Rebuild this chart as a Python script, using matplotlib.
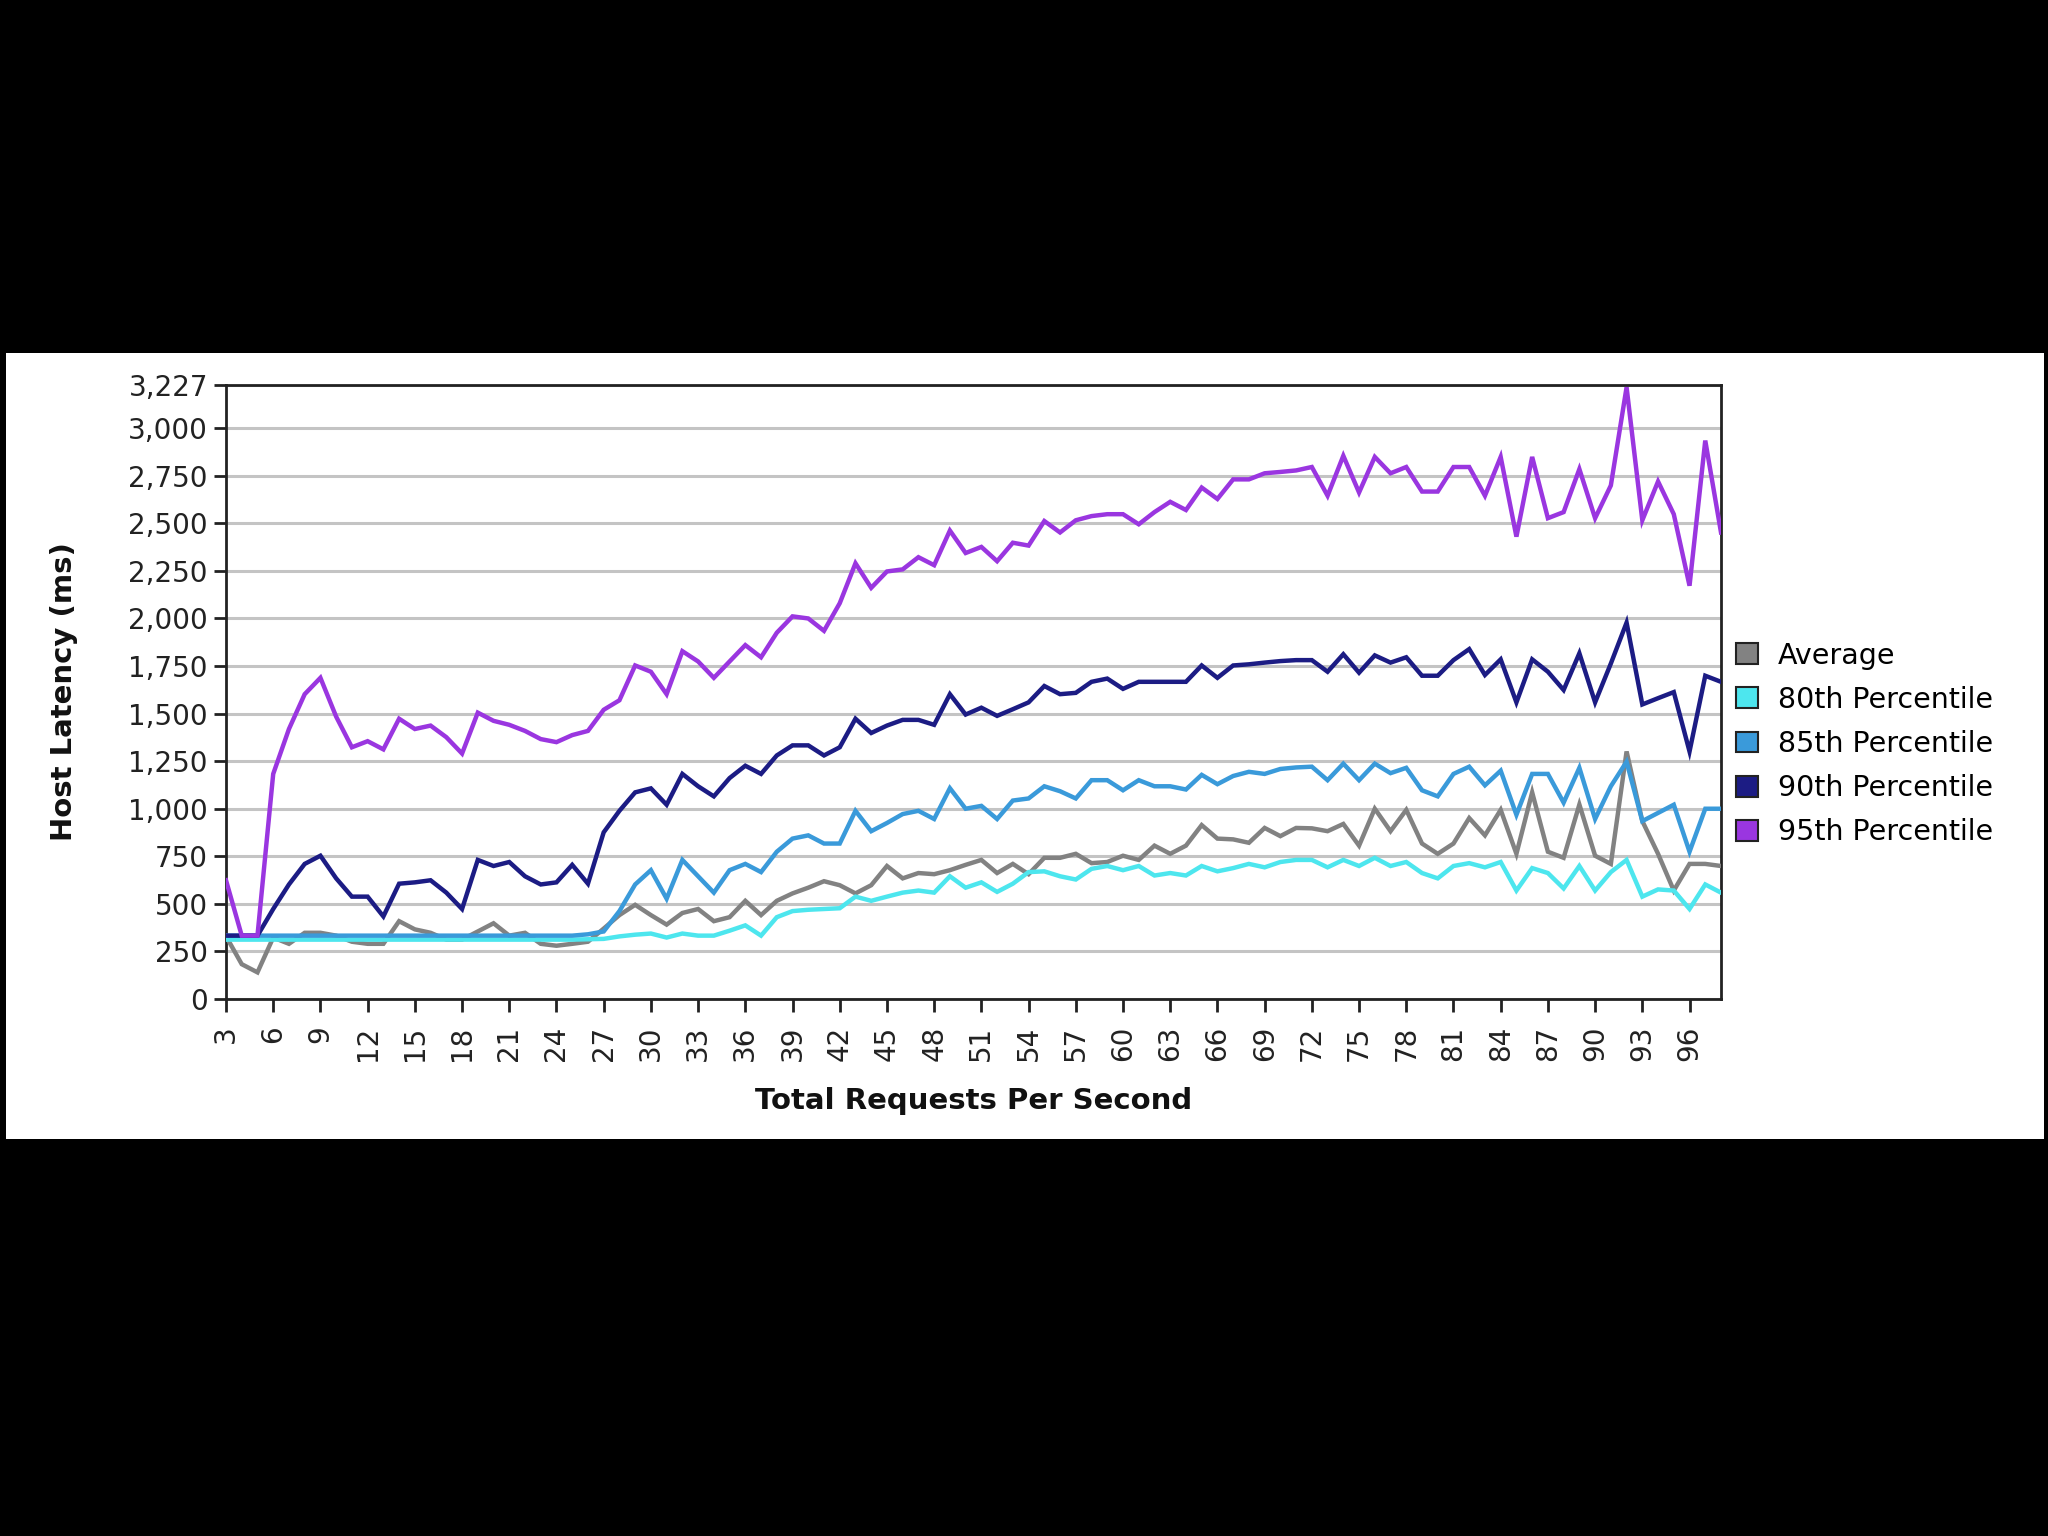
import matplotlib
matplotlib.use("Agg")
import matplotlib.pyplot as plt
from matplotlib.patches import Rectangle, Patch
from matplotlib.ticker import FuncFormatter, FixedLocator

x_values = list(range(3, 99))

average = [330, 183, 140, 323, 290, 348, 348, 333, 301, 290, 290, 409, 366, 348, 312, 312,
           355, 398, 333, 348, 290, 280, 290, 301, 370, 441, 495, 441, 391, 452, 473, 409,
           430, 516, 441, 516, 555, 585, 619, 598, 555, 598, 699, 634, 662, 656, 677, 705,
           731, 662, 710, 656, 742, 742, 763, 714, 720, 753, 731, 806, 763, 806, 914, 843,
           839, 821, 899, 856, 899, 897, 882, 920, 806, 1000, 882, 994, 817, 763, 817, 951,
           860, 994, 763, 1086, 774, 742, 1022, 753, 710, 1301, 935, 763, 570, 710, 710, 699]

p80 = [312, 312, 312, 312, 312, 312, 312, 312, 312, 312, 312, 312, 312, 312, 312, 312,
       312, 312, 312, 312, 312, 312, 312, 314, 316, 329, 338, 344, 323, 344, 333, 333,
       359, 387, 333, 430, 462, 469, 473, 477, 538, 516, 538, 559, 570, 559, 645, 585,
       613, 563, 606, 667, 671, 645, 628, 684, 699, 677, 699, 649, 662, 649, 699, 671,
       688, 710, 692, 720, 731, 731, 692, 731, 699, 742, 699, 720, 662, 634, 699, 714,
       692, 720, 570, 688, 662, 581, 699, 570, 667, 731, 538, 576, 570, 473, 602, 559]

p85 = [333, 333, 333, 333, 333, 333, 333, 333, 333, 333, 333, 333, 333, 333, 333, 333,
       333, 333, 333, 333, 333, 333, 333, 340, 355, 462, 602, 677, 527, 731, 645, 559,
       677, 710, 667, 774, 843, 860, 817, 817, 989, 882, 925, 972, 989, 946, 1108, 1000,
       1015, 946, 1043, 1054, 1118, 1092, 1054, 1150, 1150, 1097, 1150, 1118, 1118, 1101, 1178, 1129,
       1172, 1194, 1183, 1209, 1217, 1221, 1150, 1237, 1150, 1237, 1187, 1215, 1097, 1065, 1183, 1221,
       1123, 1200, 968, 1183, 1183, 1032, 1215, 946, 1118, 1247, 935, 978, 1021, 774, 1000, 1000]

p90 = [333, 333, 333, 473, 602, 710, 753, 634, 538, 538, 434, 606, 613, 624, 559, 473,
       731, 699, 720, 645, 602, 613, 705, 606, 876, 989, 1086, 1107, 1021, 1183, 1118, 1065,
       1161, 1226, 1183, 1280, 1333, 1333, 1280, 1323, 1473, 1398, 1437, 1467, 1467, 1441, 1602, 1495,
       1531, 1488, 1523, 1559, 1645, 1602, 1609, 1667, 1684, 1630, 1667, 1667, 1667, 1667, 1753, 1688,
       1753, 1759, 1768, 1776, 1781, 1781, 1720, 1812, 1715, 1806, 1768, 1796, 1699, 1699, 1781, 1839,
       1703, 1785, 1559, 1785, 1720, 1624, 1817, 1559, 1763, 1978, 1548, 1581, 1613, 1301, 1699, 1667]

p95 = [624, 333, 333, 1183, 1419, 1602, 1688, 1484, 1323, 1355, 1312, 1473, 1419, 1437, 1376, 1290,
       1505, 1462, 1441, 1409, 1366, 1350, 1387, 1409, 1520, 1570, 1753, 1720, 1602, 1828, 1774, 1688,
       1774, 1860, 1796, 1925, 2011, 2000, 1935, 2080, 2290, 2161, 2247, 2258, 2322, 2280, 2462, 2344,
       2376, 2301, 2398, 2383, 2512, 2452, 2516, 2538, 2548, 2548, 2495, 2559, 2613, 2570, 2688, 2628,
       2731, 2731, 2763, 2770, 2778, 2796, 2645, 2855, 2662, 2849, 2763, 2796, 2667, 2667, 2796, 2796,
       2645, 2849, 2430, 2849, 2527, 2559, 2785, 2527, 2699, 3215, 2516, 2720, 2548, 2172, 2935, 2452]

series_names = ["Average", "80th Percentile", "85th Percentile", "90th Percentile", "95th Percentile"]
series_colors = ["#828282", "#4DE6EE", "#3A9ADA", "#1C1C84", "#9A36E0"]

y_ticks = [0, 250, 500, 750, 1000, 1250, 1500, 1750, 2000, 2250, 2500, 2750, 3000, 3227]
x_ticks = list(range(3, 97, 3))

fig = plt.figure(figsize=(20.48, 15.36), dpi=100, facecolor="black")
fig.add_artist(Rectangle((6 / 2048, 1 - 1139 / 1536), 2038 / 2048, 786 / 1536,
                         transform=fig.transFigure, facecolor="white", edgecolor="none", zorder=0))

ax = fig.add_axes([226 / 2048, 1 - 999 / 1536, (1721 - 226) / 2048, (999 - 385) / 1536])
ax.set_facecolor("white")

for vals, name, col in zip([average, p80, p85, p90, p95], series_names, series_colors):
    ax.plot(x_values, vals, color=col, lw=3.2, label=name, solid_joinstyle="miter", zorder=3)

ax.set_xlim(3, 98)
ax.set_ylim(0, 3227)
ax.yaxis.set_major_locator(FixedLocator(y_ticks))
ax.xaxis.set_major_locator(FixedLocator(x_ticks))
ax.yaxis.set_major_formatter(FuncFormatter(lambda v, p: f"{int(v):,}"))
ax.grid(axis="y", color="#C4C4C4", lw=2.2, zorder=1)
ax.grid(axis="x", visible=False)

for s in ax.spines.values():
    s.set_color("#222222")
    s.set_linewidth(2)

ax.tick_params(axis="both", direction="out", length=9, width=2, color="#222222",
               labelsize=20, labelcolor="#222222", pad=4)
ax.tick_params(axis="x", labelrotation=90, pad=10)

ax.set_ylabel("Host Latency (ms)", fontsize=21, fontweight="bold", color="#111111", labelpad=36)
ax.set_xlabel("Total Requests Per Second", fontsize=21, fontweight="bold", color="#111111", labelpad=19)

handles = [Patch(facecolor=c, edgecolor="#222222", lw=1.5) for c in series_colors]
fig.legend(handles, series_names, loc="center left", bbox_to_anchor=(1722 / 2048, 1 - 744 / 1536),
           frameon=False, fontsize=20.5, handlelength=0.75, handleheight=0.75,
           handletextpad=0.7, labelspacing=0.57, borderpad=0)

fig.savefig("out.png", dpi=100, facecolor="black")
